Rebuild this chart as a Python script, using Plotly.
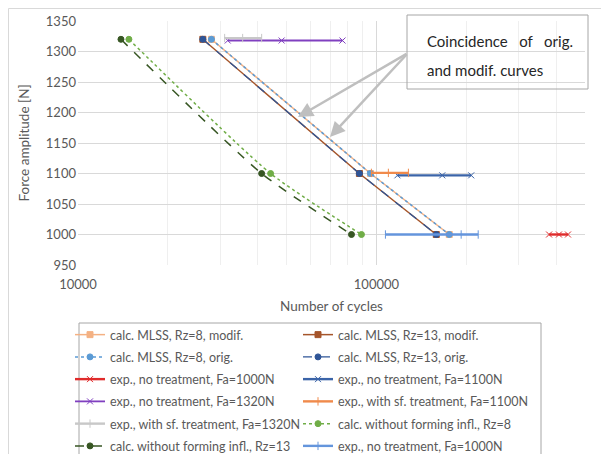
import plotly.graph_objects as go

# ---------------- data ----------------
F_calc = [1320, 1100, 1000]
N_mlss_rz8_modif = [28000, 95500, 175400]
N_mlss_rz13_modif = [26200, 87700, 158700]
N_mlss_rz8_orig = [28000, 95500, 175400]
N_mlss_rz13_orig = [26200, 87700, 158700]
N_wo_rz8 = [14810, 44200, 89100]
N_wo_rz13 = [13930, 41250, 82500]

N_exp_no_1000 = [379000, 409000, 438500]
F_exp_no_1000 = [1000, 1000, 1000]
N_exp_no_1100 = [117600, 166200, 207800]
F_exp_no_1100 = [1097, 1097, 1097]
N_exp_no_1320 = [31750, 48120, 76970]
F_exp_no_1320 = [1318, 1318, 1318]
N_exp_sf_1100 = [96200, 109650, 128000]
F_exp_sf_1100 = [1101, 1101, 1101]
N_exp_sf_1320 = [31010, 35630, 41250]
F_exp_sf_1320 = [1322, 1322, 1322]
N_exp_no_1000b = [107200, 192300, 219300]
F_exp_no_1000b = [1000, 1000, 1000]

x_tickvals = [10000, 100000]
x_ticktext = ["10000", "100000"]
x_minor = [20000, 30000, 40000, 50000, 60000, 70000, 80000, 90000,
           200000, 300000, 400000, 500000]

FONT = "Lato"
GRAY = "#595959"

fig = go.Figure()

def add(name, x, y, color, symbol, dash="solid", width=1.5, msize=6,
        legend="legend", shape="linear"):
    fig.add_trace(go.Scatter(
        x=x, y=y, name=name, mode="lines+markers",
        line=dict(color=color, width=width, dash=dash, shape=shape, smoothing=0.6),
        marker=dict(color=color, symbol=symbol, size=msize,
                    line=dict(color=color, width=1)),
        legend=legend, legendgroup=name,
    ))

# order of legend rows: left column -> legend, right column -> legend2
add("calc. MLSS, Rz=8, modif.", N_mlss_rz8_modif, F_calc, "#F4B183", "square", legend="legend")
add("calc. MLSS, Rz=13, modif.", N_mlss_rz13_modif, F_calc, "#A5552A", "square", legend="legend2")
add("calc. MLSS, Rz=8, orig.", N_mlss_rz8_orig, F_calc, "#5B9BD5", "circle", dash="dot", legend="legend")
add("calc. MLSS, Rz=13, orig.", N_mlss_rz13_orig, F_calc, "#2F5597", "circle", dash="dash", width=1.3, legend="legend2")
add("exp., no treatment, Fa=1000N", N_exp_no_1000, F_exp_no_1000, "#E02B2B", "x-thin-open", width=2.4, msize=6, legend="legend")
add("exp., no treatment, Fa=1100N", N_exp_no_1100, F_exp_no_1100, "#3B64A8", "x-thin-open", width=2.4, msize=6, legend="legend2")
add("exp., no treatment, Fa=1320N", N_exp_no_1320, F_exp_no_1320, "#8040C0", "x-thin-open", width=1.8, msize=6, legend="legend")
add("exp., with sf. treatment, Fa=1100N", N_exp_sf_1100, F_exp_sf_1100, "#F08A4B", "line-ns-open", width=2.4, msize=6, legend="legend2")
add("exp., with sf. treatment, Fa=1320N", N_exp_sf_1320, F_exp_sf_1320, "#C8C8C8", "line-ns-open", width=2.4, msize=6, legend="legend")
add("calc. without forming infl., Rz=8", N_wo_rz8, F_calc, "#70AD47", "circle", dash="dot", legend="legend2", shape="spline")
add("calc. without forming infl., Rz=13", N_wo_rz13, F_calc, "#375623", "circle", dash="dash", legend="legend", shape="spline")
add("exp., no treatment, Fa=1000N", N_exp_no_1000b, F_exp_no_1000b, "#6495DC", "line-ns-open", width=2.4, msize=6, legend="legend2")

# the page shows the figure offset by the default 8px body margin
OFF = 8
W, H = 609, 454
L, T = 78 - OFF, 21 - OFF
R = W - (585 - OFF)
B = H - (265 - OFF)
pw, ph = W - L - R, H - T - B

def rx(x):  # screen x -> paper
    return (x - OFF - L) / pw

def ry(y):  # screen y -> paper
    return (T + ph - (y - OFF)) / ph

leg_common = dict(
    orientation="v", xanchor="left", yanchor="top",
    font=dict(family=FONT, size=12.5, color=GRAY),
    bgcolor="rgba(0,0,0,0)", borderwidth=0,
    tracegroupgap=3, traceorder="grouped", itemwidth=30,
)

fig.update_layout(
    width=W, height=H,
    margin=dict(l=L, r=R, t=T, b=B, autoexpand=False),
    paper_bgcolor="white", plot_bgcolor="white",
    font=dict(family=FONT, color=GRAY),
    showlegend=True,
    legend=dict(x=rx(70), y=ry(320), **leg_common),
    legend2=dict(x=rx(298), y=ry(320), **leg_common),
    xaxis=dict(
        type="log", range=[4, 5.69897],
        tickvals=x_tickvals, ticktext=x_ticktext,
        showgrid=True, gridcolor="#D9D9D9", gridwidth=1,
        minor=dict(tickvals=x_minor, showgrid=True, gridcolor="#EFEFEF", gridwidth=1),
        ticks="", showline=False, zeroline=False,
        tickfont=dict(family=FONT, size=13, color=GRAY),
        ticklabelstandoff=10,
        title=dict(text="Number of cycles", font=dict(family=FONT, size=13.5, color=GRAY), standoff=10),
    ),
    yaxis=dict(
        range=[950, 1350], dtick=50,
        showgrid=True, gridcolor="#D9D9D9", gridwidth=1,
        ticks="", showline=False, zeroline=False,
        tickfont=dict(family=FONT, size=13, color=GRAY),
        ticklabelstandoff=1,
        title=dict(text="Force amplitude [N]", font=dict(family=FONT, size=13.5, color=GRAY), standoff=13),
    ),
    shapes=[
        # chart area border (figure edge)
        dict(type="rect", xref="paper", yref="paper",
             x0=rx(8.5), x1=rx(800), y0=ry(800), y1=ry(8.5),
             line=dict(color="#D9D9D9", width=1), layer="below"),
        # legend box
        dict(type="rect", xref="paper", yref="paper",
             x0=rx(79), x1=rx(541), y0=ry(470), y1=ry(323),
             line=dict(color="#A6A6A6", width=1), layer="above"),
        # callout box
        dict(type="rect", xref="paper", yref="paper",
             x0=rx(407), x1=rx(588), y0=ry(89), y1=ry(15),
             line=dict(color="#A6A6A6", width=1), fillcolor="rgba(0,0,0,0)", layer="above"),
    ],
    annotations=[
        dict(xref="paper", yref="paper", x=rx(425), y=ry(41), xanchor="left", yanchor="middle",
             text="Coincidence&nbsp;&nbsp; of&nbsp;&nbsp; orig.", showarrow=False,
             font=dict(family=FONT, size=15, color="#262626")),
        dict(xref="paper", yref="paper", x=rx(425), y=ry(70), xanchor="left", yanchor="middle",
             text="and modif. curves", showarrow=False,
             font=dict(family=FONT, size=15, color="#262626")),
        dict(xref="paper", yref="paper", x=rx(298), y=ry(117), text="", showarrow=True,
             ax=110, ay=-64, arrowhead=2, arrowsize=1.2, arrowwidth=2.5, arrowcolor="#BFBFBF"),
        dict(xref="paper", yref="paper", x=rx(330), y=ry(137), text="", showarrow=True,
             ax=78, ay=-84, arrowhead=2, arrowsize=1.2, arrowwidth=2.5, arrowcolor="#BFBFBF"),
    ],
)

fig.write_html("out.html")
